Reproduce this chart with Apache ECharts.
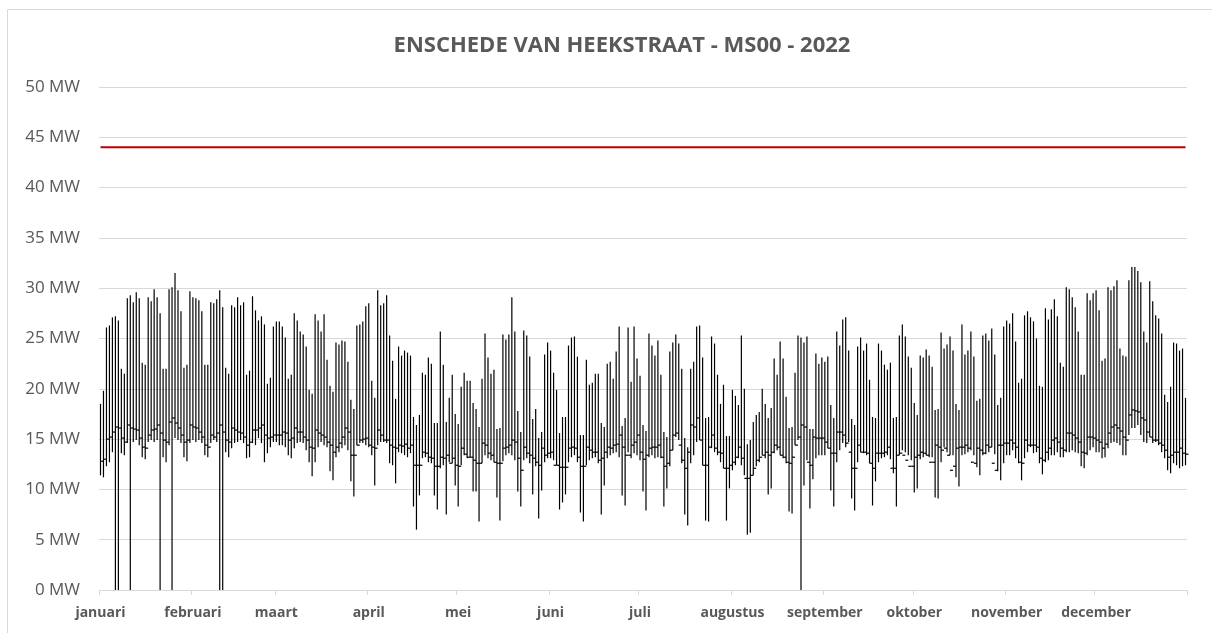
<!DOCTYPE html>
<html>
<head>
<meta charset="utf-8">
<script src="https://cdn.jsdelivr.net/npm/echarts@6/dist/echarts.min.js"></script>
<style>
html,body{margin:0;padding:0;background:#fff;}
#chart{width:1212px;height:633px;}
</style>
</head>
<body>
<div id="chart"></div>
<script>
const chartTitle = 'ENSCHEDE VAN HEEKSTRAAT - MS00 - 2022';
const monthNames = ['januari','februari','maart','april','mei','juni','juli','augustus','september','oktober','november','december'];
const monthDays = [31,28,31,30,31,30,31,31,30,31,30,31];
const limitValue = 44;

// daily maximum (MW)
const dailyHigh = [
  18.5,19.8,26.1,26.3,27.1,27.2,26.8,22.0,21.5,29.0,29.3,28.6,29.6,29.0,22.6,22.4,29.1,28.7,29.9,29.1,27.5,22.0,22.0,29.9,30.1,31.5,29.8,27.7,22.1,22.4,29.7,
  29.1,29.0,28.8,27.7,22.4,22.4,28.6,28.5,28.9,29.8,28.1,22.1,21.5,28.3,28.1,29.1,28.3,28.6,21.4,21.8,29.2,27.8,26.8,27.2,26.4,20.5,21.1,26.2,
  26.7,26.7,26.2,25.1,21.0,21.4,27.5,26.8,25.7,25.4,24.2,19.9,19.5,27.4,26.8,25.7,27.4,22.9,20.3,19.7,24.6,24.4,24.8,24.7,22.7,18.9,18.0,26.3,26.4,26.7,28.2,
  28.5,20.8,19.1,29.8,28.3,28.5,29.3,25.3,22.8,19.0,24.2,23.3,23.8,23.6,23.3,17.2,16.4,17.4,21.6,21.4,23.1,22.5,16.6,16.6,25.7,22.4,16.7,19.1,21.4,17.5,
  16.5,20.2,21.6,20.8,20.8,18.6,18.0,16.2,21.0,25.5,23.1,21.5,21.9,16.0,16.1,25.4,24.9,25.4,29.1,25.7,17.8,15.7,25.8,25.3,23.2,17.0,18.0,15.1,15.7,23.4,24.6,
  23.8,21.6,19.9,15.6,17.2,17.2,24.3,25.1,25.2,23.2,15.4,15.4,22.9,20.4,20.6,21.5,21.5,16.6,16.2,22.5,22.7,21.0,23.7,26.2,16.3,17.1,26.1,20.7,26.2,23.0,
  21.3,16.4,15.8,25.5,24.3,23.3,24.8,21.4,15.7,15.2,23.7,24.6,25.4,24.5,22.0,15.1,14.2,22.0,22.7,26.2,26.3,23.1,17.1,17.2,25.2,24.5,21.4,18.5,20.4,15.3,15.3,
  19.9,19.3,18.4,25.3,20.0,14.5,14.9,16.7,17.4,17.7,20.0,18.5,17.1,18.1,23.0,21.4,24.7,23.0,19.2,16.1,16.2,21.6,25.3,25.1,24.6,25.2,16.0,16.0,23.5,22.5,23.1,
  22.7,23.2,18.4,17.1,25.7,24.3,26.9,27.1,23.8,17.0,16.4,24.2,25.1,23.8,24.5,20.9,17.2,17.1,24.5,23.8,22.4,21.9,22.6,17.1,17.2,25.3,26.4,25.2,23.2,22.1,
  18.6,17.4,23.3,23.1,23.9,23.3,22.2,17.9,18.0,25.6,24.0,24.4,25.2,23.8,18.5,17.9,26.4,23.4,23.8,25.7,23.2,18.8,19.0,25.3,25.5,24.8,26.0,23.4,18.4,19.1,26.2,
  26.8,26.5,27.5,24.7,20.6,21.0,27.3,27.7,27.1,26.7,25.0,20.3,20.2,28.0,26.9,27.9,28.9,27.2,22.6,22.2,30.1,29.9,29.1,28.1,25.7,21.4,21.4,29.5,28.8,29.5,
  29.8,27.8,22.8,23.0,30.1,29.8,30.2,30.8,24.0,23.3,23.2,30.8,32.1,32.1,31.7,30.6,25.7,24.6,30.7,28.7,27.3,27.0,25.5,19.4,18.7,20.2,24.6,24.5,23.8,24.0,19.1
];

// daily minimum (MW)
const dailyLow = [
  11.4,11.2,12.3,12.7,13.7,0,0,13.6,13.4,14.6,0,14.7,14.9,14.4,13.2,13.0,14.7,14.9,14.7,14.9,0,13.2,12.7,14.4,0,15.1,14.9,14.6,13.2,12.8,14.6,
  14.9,14.7,14.9,14.6,13.4,13.2,14.6,14.9,14.7,0,0,13.7,13.2,14.1,14.6,14.7,14.9,14.6,13.1,13.2,14.6,14.4,15.1,14.6,12.7,13.6,14.2,14.7,
  14.7,14.4,14.4,14.2,13.4,13.1,14.1,14.6,14.7,14.6,13.9,12.7,11.3,12.7,14.2,14.7,14.4,14.2,11.8,10.9,13.2,13.7,14.1,14.4,13.9,10.8,9.3,14.4,14.6,14.6,14.4,
  14.2,13.4,10.4,14.4,14.7,14.7,14.6,12.6,12.4,10.6,13.7,13.6,13.4,13.2,13.6,8.3,6.0,9.4,13.1,13.2,12.7,12.6,9.4,8.0,12.1,12.4,7.5,12.7,12.6,10.4,
  8.3,12.4,13.4,13.1,13.2,9.8,9.8,6.8,12.6,13.4,13.1,12.9,12.7,9.2,6.9,12.8,13.4,13.6,13.4,12.9,9.8,8.3,12.9,13.1,12.6,9.5,12.3,7.1,9.9,12.7,13.1,
  13.1,12.9,12.4,8.0,8.7,9.5,12.7,13.2,13.4,12.7,7.7,6.8,12.4,12.9,13.1,13.2,12.6,7.5,10.4,13.1,13.4,13.6,13.7,13.2,9.4,8.4,13.7,13.1,13.6,13.4,
  12.9,9.8,7.9,13.2,13.4,13.1,13.2,13.1,8.3,10.1,12.3,13.9,15.2,14.9,12.6,7.5,6.4,12.6,13.4,14.7,14.9,12.4,6.9,6.8,14.1,13.7,13.4,12.7,12.1,6.9,10.1,
  11.9,12.4,13.1,12.4,11.4,5.5,5.7,11.4,12.3,12.7,13.4,13.1,9.5,10.1,13.6,13.9,13.4,13.1,12.6,7.8,7.6,14.4,14.9,0,10.4,12.9,8.1,11.0,13.1,13.4,13.4,
  13.4,14.1,9.9,8.3,12.7,13.9,14.6,14.2,14.7,9.1,7.9,12.7,13.7,13.6,13.4,12.6,8.4,10.8,12.7,13.1,13.2,13.4,13.0,11.6,8.3,13.4,13.9,13.7,13.4,12.9,
  9.7,10.1,13.0,13.2,13.4,13.2,13.2,9.2,9.1,12.7,14.2,13.7,13.4,13.4,11.2,10.3,13.4,13.5,13.7,13.9,13.4,12.2,11.4,13.4,13.5,13.7,14.2,13.5,11.8,10.9,12.6,
  13.4,13.4,13.9,13.1,12.6,10.9,13.1,13.7,14.2,13.6,13.7,12.6,11.5,12.7,12.9,13.4,13.4,13.7,13.2,13.2,13.7,13.7,13.9,13.7,13.6,12.3,12.1,13.4,13.9,14.2,
  13.7,13.7,13.1,13.2,14.1,14.6,14.7,14.6,14.4,13.4,13.4,15.4,16.1,16.1,16.4,15.4,14.7,14.6,15.2,14.6,14.7,14.4,13.7,13.1,11.9,11.6,12.6,12.4,12.1,12.3,12.4
];

// daily closing value (MW)
const dailyClose = [
  12.8,13.0,15.0,15.2,15.7,16.2,16.1,15.1,14.7,16.4,16.1,16.0,15.9,15.1,14.2,14.1,15.4,15.9,16.0,16.4,15.6,14.9,14.7,16.7,17.1,16.6,16.1,15.4,14.7,14.9,16.4,
  16.2,16.1,15.7,15.2,14.4,14.2,15.4,15.2,15.6,16.4,15.7,14.9,14.7,16.1,15.9,15.7,15.6,15.2,14.4,14.7,15.9,15.9,16.1,16.4,15.4,15.1,15.2,15.4,
  15.4,15.4,15.7,15.6,14.9,15.1,16.1,15.7,15.7,15.2,14.9,14.2,14.1,15.9,15.6,15.4,15.2,14.7,14.4,13.7,14.2,14.6,15.2,16.1,15.7,13.4,13.4,14.4,14.9,15.0,15.1,
  14.4,14.2,14.1,15.9,15.4,14.9,14.9,14.4,14.2,14.1,14.4,14.3,14.5,14.1,14.4,12.4,12.4,12.4,13.7,13.6,13.2,13.1,12.3,12.3,13.2,13.1,13.4,12.6,13.1,12.4,
  12.3,14.1,13.5,13.2,13.2,12.9,12.6,12.6,14.6,14.4,13.6,13.4,12.7,12.6,12.6,14.1,14.2,14.4,14.9,14.7,13.1,11.9,14.2,13.6,13.4,13.1,12.7,12.4,14.1,13.4,13.6,
  13.7,12.4,12.4,12.2,12.2,12.2,14.1,14.2,14.1,13.2,12.3,12.3,14.2,13.9,13.7,13.7,12.9,13.1,13.7,14.2,14.1,14.4,14.5,15.4,14.2,13.4,13.4,14.4,14.7,15.4,
  13.7,13.0,13.4,14.1,14.2,14.2,14.4,13.2,12.3,12.6,13.9,15.4,15.6,14.4,12.9,12.1,13.7,16.4,16.2,17.1,14.9,12.4,12.4,14.2,15.4,14.1,13.7,13.6,12.1,12.1,12.4,
  12.7,13.2,14.2,13.1,11.1,11.1,11.4,12.1,12.9,13.2,13.4,13.7,13.4,13.7,14.4,14.2,13.4,13.2,12.7,12.6,13.2,14.4,15.2,16.4,16.2,12.7,12.4,15.2,15.1,15.1,15.1,
  14.7,14.1,13.6,13.6,15.7,15.7,15.4,14.6,13.7,12.1,12.1,14.4,13.7,13.7,13.6,12.6,12.1,13.6,13.6,13.6,13.7,14.2,12.1,12.1,13.4,13.6,13.4,12.9,12.3,12.3,
  13.2,13.4,13.7,13.6,13.4,12.7,12.7,14.4,14.2,13.9,14.1,13.4,11.9,12.3,14.1,14.2,14.2,14.4,14.1,12.7,12.6,14.1,13.9,13.6,14.4,14.2,12.6,11.9,14.4,14.4,14.6,
  14.6,14.9,14.6,14.2,12.7,12.6,14.9,14.4,14.4,14.4,14.2,13.1,12.9,13.7,14.1,14.9,15.1,14.7,14.1,13.9,15.6,15.6,15.4,15.1,14.7,13.7,13.6,15.2,15.2,15.1,
  14.9,14.7,14.1,14.5,15.6,16.2,16.4,16.1,15.8,15.2,14.9,17.4,17.9,17.8,17.7,17.1,16.9,15.7,15.2,14.9,14.9,14.6,14.4,13.9,13.2,13.4,13.7,13.7,14.1,13.6,13.5
];

// categories: one per day, month name shown on the first day
const categories = [];
const monthLabelAt = {};
monthNames.forEach(function (m, mi) {
  for (let d = 1; d <= monthDays[mi]; d++) {
    if (d === 1) monthLabelAt[categories.length] = m;
    categories.push(d + ' ' + m);
  }
});
const isMonthStart = function (index) { return monthLabelAt[index] !== undefined; };

const hlcData = categories.map(function (c, i) { return [i, dailyLow[i], dailyHigh[i], dailyClose[i]]; });
const limitData = categories.map(function () { return limitValue; });

const FONT = '"Open Sans", Lato, sans-serif';
const chart = echarts.init(document.getElementById('chart'), null, {renderer: 'canvas'});
chart.setOption({
  animation: false,
  backgroundColor: '#ffffff',
  title: {
    text: chartTitle,
    left: 617,
    top: 30,
    textAlign: 'center',
    textStyle: {fontFamily: FONT, fontSize: 22, fontWeight: 'bold', color: '#595959'}
  },
  graphic: [{
    type: 'rect', silent: true, z: -10,
    shape: {x: 7.5, y: 9.5, width: 1300, height: 700},
    style: {fill: 'none', stroke: '#d9d9d9', lineWidth: 1}
  }],
  grid: {left: 99, right: 25, top: 87, bottom: 43, containLabel: false},
  xAxis: {
    type: 'category',
    data: categories,
    boundaryGap: true,
    axisLine: {lineStyle: {color: '#d9d9d9', width: 1}},
    axisTick: {show: true, length: 5, interval: isMonthStart, lineStyle: {color: '#d9d9d9'}},
    axisLabel: {
      interval: isMonthStart,
      formatter: function (v, i) { return monthLabelAt[i] || ''; },
      margin: 16,
      fontFamily: FONT, fontSize: 14, fontWeight: 'bold', color: '#595959'
    },
    splitLine: {show: false}
  },
  yAxis: {
    type: 'value',
    min: 0, max: 50, interval: 5,
    axisLine: {show: false},
    axisTick: {show: false},
    axisLabel: {
      formatter: '{value} MW', margin: 19,
      fontFamily: FONT, fontSize: 17, color: '#595959'
    },
    splitLine: {lineStyle: {color: '#d9d9d9', width: 1}}
  },
  series: [
    {
      type: 'custom',
      name: 'MS00',
      data: hlcData,
      encode: {x: 0, y: [1, 2, 3]},
      renderItem: function (params, api) {
        const x = api.value(0);
        const pLow = api.coord([x, api.value(1)]);
        const pHigh = api.coord([x, api.value(2)]);
        const pClose = api.coord([x, api.value(3)]);
        const w = api.size([1, 0])[0];
        return {
          type: 'group',
          children: [
            {type: 'line', shape: {x1: pLow[0], y1: pLow[1], x2: pHigh[0], y2: pHigh[1]},
             style: {stroke: '#000000', lineWidth: 1.2}},
            {type: 'line', shape: {x1: pClose[0], y1: pClose[1], x2: pClose[0] + w, y2: pClose[1]},
             style: {stroke: '#000000', lineWidth: 1.2}}
          ]
        };
      },
      z: 3
    },
    {
      type: 'line',
      name: 'limiet',
      data: limitData,
      showSymbol: false,
      silent: true,
      lineStyle: {color: '#c00000', width: 2},
      z: 4
    }
  ]
});
</script>
</body>
</html>
